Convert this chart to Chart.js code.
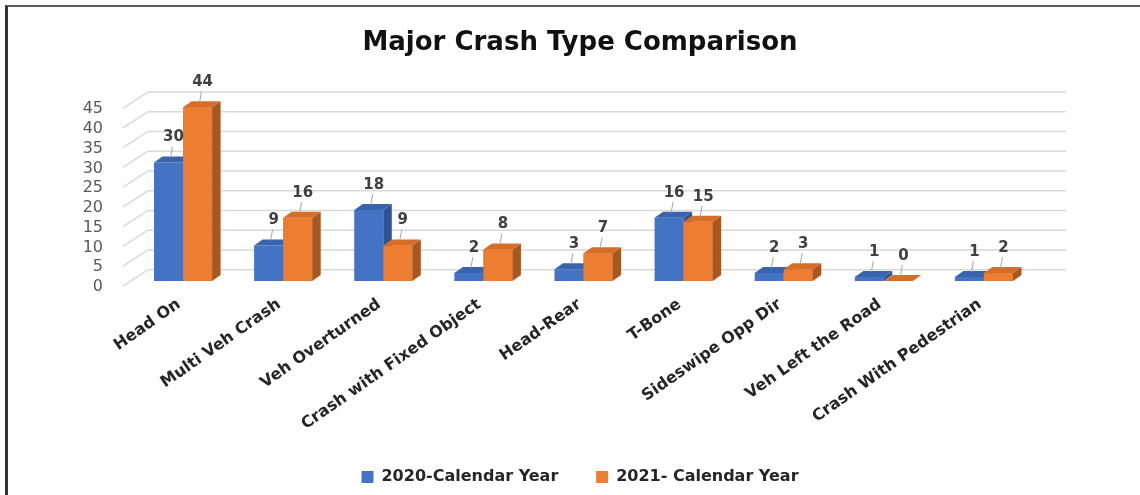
<!DOCTYPE html>
<html>
<head>
<meta charset="utf-8">
<script src="https://cdn.jsdelivr.net/npm/chart.js@4.4.1/dist/chart.umd.min.js"></script>
<style>
  html,body{margin:0;padding:0;background:#fff;}
  #wrap{position:relative;width:1140px;height:495px;overflow:hidden;}
  #frame{position:absolute;left:5px;top:5px;width:1140px;height:495px;border-top:2px solid #5a5a5a;border-left:3px solid #333;box-sizing:border-box;pointer-events:none;}
  canvas{position:absolute;left:0;top:0;}
</style>
</head>
<body>
<div id="wrap">
  <canvas id="chart" width="1140" height="495"></canvas>
  <div id="frame"></div>
</div>
<script>
// ---------- DATA ----------
const categories = ['Head On','Multi Veh Crash','Veh Overturned','Crash with Fixed Object','Head-Rear','T-Bone','Sideswipe Opp Dir','Veh Left the Road','Crash With Pedestrian'];
const year2020 = [30, 9, 18, 2, 3, 16, 2, 1, 1];
const year2021 = [44, 16, 9, 8, 7, 15, 3, 0, 2];
const seriesNames = ['2020-Calendar Year', '2021- Calendar Year'];
const yTicks = [0, 5, 10, 15, 20, 25, 30, 35, 40, 45];

// ---------- STYLE ----------
const FONT = "'DejaVu Sans', 'Liberation Sans', sans-serif";
const faces = [
  {front:'#4472C4', top:'#3A63AE', side:'#2D5395'},
  {front:'#ED7D31', top:'#D66E28', side:'#A9571F'}
];
const DX = 8.5, DY = -6;           // bar depth
const WX = 15, WY = -11.3;         // back wall offset
Chart.defaults.font.family = FONT;

// back wall gridlines with the diagonal floor edges
const wallGrid = {
  id:'wallGrid',
  beforeDatasetsDraw(chart){
    const {ctx, chartArea:a, scales:{y}} = chart;
    ctx.save();
    ctx.strokeStyle = '#d9d9d9';
    ctx.lineWidth = 1.5;
    yTicks.forEach(v=>{
      const p = y.getPixelForValue(v);
      ctx.beginPath();
      ctx.moveTo(a.left-10, p+5);
      ctx.lineTo(a.left+WX, p+WY);
      ctx.lineTo(a.right+32, p+WY);
      ctx.stroke();
    });
    ctx.restore();
  }
};

function poly(ctx, pts, color){
  ctx.beginPath();
  ctx.moveTo(pts[0][0], pts[0][1]);
  for(let k=1;k<pts.length;k++) ctx.lineTo(pts[k][0], pts[k][1]);
  ctx.closePath();
  ctx.fillStyle = color;
  ctx.fill();
}

function drawDepth(ctx, bar, f){
  const {x, y, base, width} = bar.getProps(['x','y','base','width'], true);
  const L = x - width/2, R = x + width/2;
  poly(ctx, [[R,y],[R+DX,y+DY],[R+DX,base+DY],[R,base]], f.side);
  poly(ctx, [[L,y],[L+DX,y+DY],[R+DX,y+DY],[R,y]], f.top);
}

// 3D faces + value labels
const bars3d = {
  id:'bars3d',
  afterDatasetsDraw(chart){
    const ctx = chart.ctx;
    const m0 = chart.getDatasetMeta(0), m1 = chart.getDatasetMeta(1);
    ctx.save();
    categories.forEach((c,i)=>{
      drawDepth(ctx, m0.data[i], faces[0]);
      m1.data[i].draw(ctx);
      drawDepth(ctx, m1.data[i], faces[1]);
    });
    // labels
    ctx.font = 'bold 15px ' + FONT;
    ctx.textAlign = 'center';
    ctx.textBaseline = 'middle';
    [m0, m1].forEach((m, d)=>{
      const vals = d===0 ? year2020 : year2021;
      m.data.forEach((bar, i)=>{
        const {x, y} = bar.getProps(['x','y'], true);
        ctx.strokeStyle = '#a6a6a6';
        ctx.lineWidth = 1;
        ctx.beginPath();
        ctx.moveTo(x+4, y-16);
        ctx.lineTo(x+2, y-5);
        ctx.stroke();
        ctx.fillStyle = '#404040';
        ctx.fillText(String(vals[i]), x+5, y-25);
      });
    });
    ctx.restore();
  }
};

new Chart(document.getElementById('chart'), {
  type:'bar',
  data:{
    labels: categories,
    datasets:[
      {label: seriesNames[0], data: year2020, backgroundColor: faces[0].front, borderWidth:0},
      {label: seriesNames[1], data: year2021, backgroundColor: faces[1].front, borderWidth:0}
    ]
  },
  options:{
    responsive:false,
    devicePixelRatio:1,
    animation:false,
    layout:{padding:{left:20, right:0, top:0, bottom:0}},
    datasets:{bar:{barPercentage:1, categoryPercentage:0.58}},
    plugins:{
      title:{display:true, text:'Major Crash Type Comparison', color:'#111',
        font:{size:26, weight:'bold', lineHeight:1.2}, padding:{top:28, bottom:44}},
      legend:{position:'bottom',
        labels:{color:'#262626', font:{size:16, weight:'bold'}, boxWidth:12, boxHeight:12, padding:10,
          generateLabels(chart){
            const items = Chart.defaults.plugins.legend.labels.generateLabels(chart);
            items.forEach((it,k)=>{ if(k < items.length-1) it.text = it.text + '     '; it.lineWidth = 0; });
            return items;
          }}},
      tooltip:{enabled:false}
    },
    scales:{
      x:{
        grid:{display:false, drawTicks:false}, border:{display:false},
        ticks:{color:'#262626', font:{size:16, weight:'bold'}, minRotation:35, maxRotation:35, autoSkip:false, padding:14, labelOffset:-4},
        afterFit(s){ s.height = 178; s.paddingLeft = 0; s.paddingRight = 0; }
      },
      y:{
        min:0, max:45,
        grid:{display:false, drawTicks:false}, border:{display:false},
        ticks:{stepSize:5, autoSkip:false, color:'#595959', font:{size:16}, padding:30, labelOffset:6},
        afterFit(s){ s.width = 113; s.paddingTop = 0; s.paddingBottom = 0; }
      },
      yR:{
        type:'linear', position:'right', display:true,
        grid:{display:false, drawTicks:false}, border:{display:false},
        ticks:{display:false},
        afterFit(s){ s.width = 106; s.paddingTop = 0; s.paddingBottom = 0; }
      }
    }
  },
  plugins:[wallGrid, bars3d]
});
</script>
</body>
</html>
